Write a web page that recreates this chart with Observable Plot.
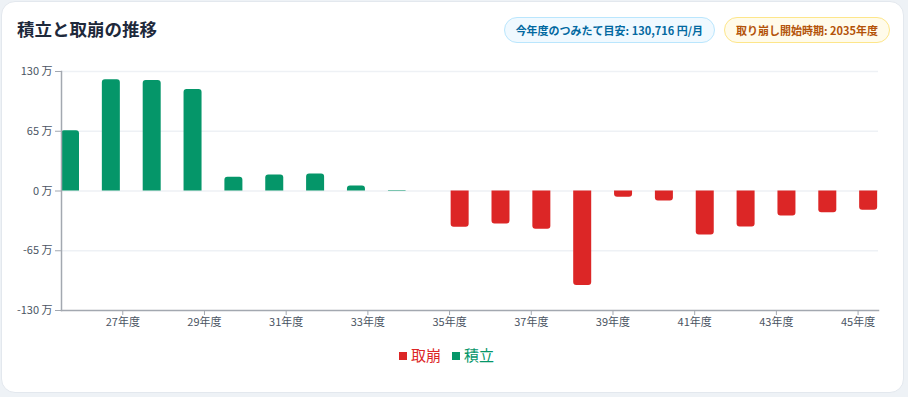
<!DOCTYPE html>
<html>
<head>
<meta charset="utf-8">
<script src="https://cdn.jsdelivr.net/npm/d3@7"></script>
<script src="https://cdn.jsdelivr.net/npm/@observablehq/plot@0.6"></script>
<style>
  html, body { margin:0; padding:0; width:908px; height:397px; overflow:hidden; background:#eef2f6;
    font-family:"Noto Sans CJK JP","Noto Sans",sans-serif; }
  .card { position:absolute; left:1px; top:1px; width:903px; height:392px; background:#fff;
    border:1px solid #e3e8ee; border-radius:14px; box-sizing:border-box; }
  .title { position:absolute; left:17px; top:16px; font-size:17.5px; font-weight:700; color:#1e293b; line-height:26px; }
  .badges { position:absolute; right:18px; top:17px; display:flex; gap:9px; }
  .badge { height:26px; box-sizing:border-box; border-radius:13px; padding:0 11px; font-size:11px; font-weight:700;
    line-height:24px; white-space:nowrap; }
  .b1 { background:#f0f9ff; border:1px solid #bae6fd; color:#0369a1; }
  .b2 { background:#fffbeb; border:1px solid #fde68a; color:#b45309; }
  #chart { position:absolute; left:0; top:60px; }
  .legend { position:absolute; left:399px; top:344px; display:flex; align-items:center; font-size:15px; line-height:22px; }
  .item { display:flex; align-items:center; margin-right:11px; }
  .sw { width:8px; height:8px; margin-right:4px; margin-top:2px; }
</style>
</head>
<body>
<div class="card"></div>
<div class="title">積立と取崩の推移</div>
<div class="badges">
  <div class="badge b1">今年度のつみたて目安: 130,716 円/月</div>
  <div class="badge b2">取り崩し開始時期: 2035年度</div>
</div>
<div id="chart"></div>
<div class="legend">
  <div class="item" style="color:#dc2626"><span class="sw" style="background:#dc2626"></span>取崩</div>
  <div class="item" style="color:#059669"><span class="sw" style="background:#059669"></span>積立</div>
</div>
<script>
// 年度 (令和)
const years = [26,27,28,29,30,31,32,33,34,35,36,37,38,39,40,41,42,43,44,45];
// 積立 (万円)
const tsumitate = [65.5,121,120.3,110.5,14.9,17.4,18.5,5.4,0.5,0,0,0,0,0,0,0,0,0,0,0];
// 取崩 (万円, 負の値)
const torikuzushi = [0,0,0,0,0,0,0,0,0,-39.5,-35.8,-41.6,-102.9,-6.8,-10.9,-47.8,-39.1,-27.2,-23.6,-21.0];
// 目盛
const yTicks = [-130,-65,0,65,130];
const xTickYears = [27,29,31,33,35,37,39,41,43,45];

const greenData = years.map((y,i)=>({year:y, value:tsumitate[i]})).filter(d=>d.value!==0);
const redData = years.map((y,i)=>({year:y, value:torikuzushi[i]})).filter(d=>d.value!==0);

const font = '"Noto Sans CJK JP","Noto Sans",sans-serif';
const chart = Plot.plot({
  width: 908, height: 280,
  marginLeft: 61, marginRight: 30, marginTop: 11, marginBottom: 30,
  style: {fontFamily: font, fontSize: "11px", color: "#4b5563", background: "transparent"},
  x: {type: "band", domain: years, padding: 0, round: false, axis: null},
  y: {domain: [-130, 130], axis: null},
  marks: [
    Plot.gridY(yTicks.filter(d=>d>-130), {stroke: "#eef1f5", strokeOpacity: 1, strokeWidth: 1.5}),
    Plot.barY(greenData, {x: "year", y: "value", fill: "#059669", insetLeft: 0, insetRight: 22.85, ry1: 3}),
    Plot.barY(redData, {x: "year", y: "value", fill: "#dc2626", insetLeft: 22, insetRight: 0.85, ry2: 3}),
    Plot.frame({anchor: "left", stroke: "#a3a8b0", strokeWidth: 1.5}),
    Plot.frame({anchor: "bottom", stroke: "#a3a8b0", strokeWidth: 1.5}),
    Plot.axisY(yTicks, {tickFormat: d => `${d} 万`, tickSize: 6, tickPadding: 3, stroke: "#a3a8b0", fill: "#4b5563", label: null}),
    Plot.axisX(xTickYears, {tickFormat: d => `${d}年度`, tickSize: 5, tickPadding: 3, stroke: "#a3a8b0", fill: "#4b5563", label: null})
  ]
});
document.getElementById("chart").appendChild(chart);
</script>
</body>
</html>
